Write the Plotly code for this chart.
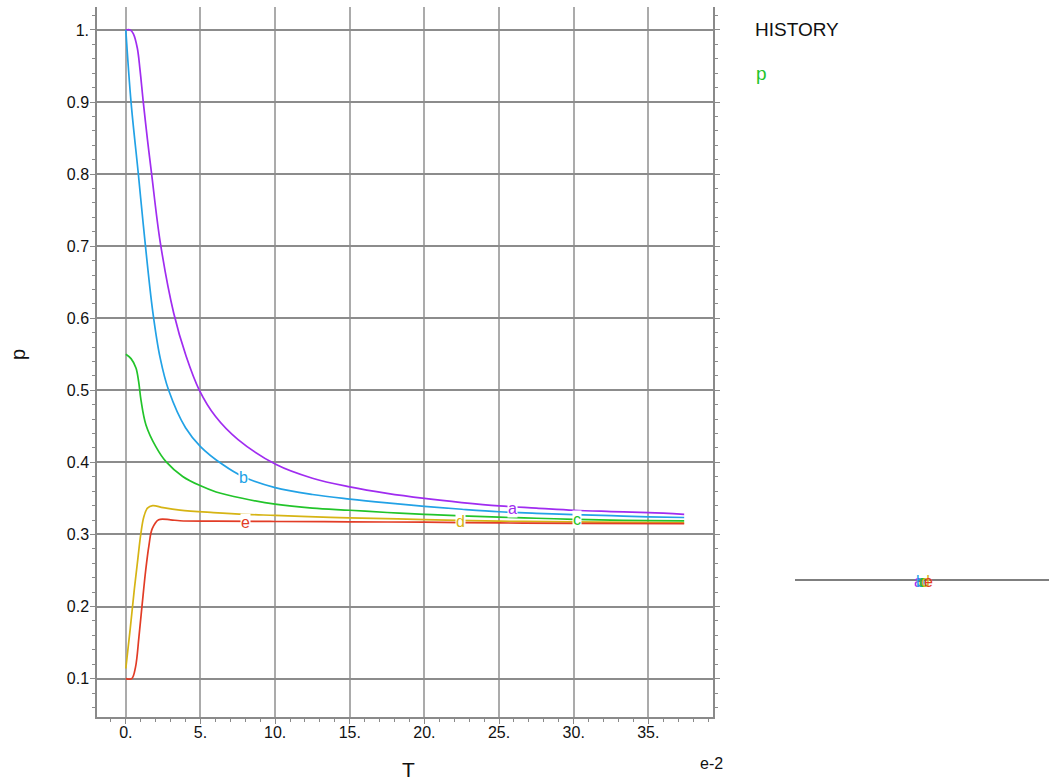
import plotly.graph_objects as go

# ---------------- data ----------------
T_a = [0, 0.3, 0.5, 0.77, 0.95, 1.17, 1.45, 1.73, 2.31, 3.21, 4.03, 4.93, 6.0, 7.5, 10.07, 12.5, 15, 17.5, 20, 22.5, 25, 27.5, 30, 32.5, 35, 37.4]
p_a = [1.0, 1.0, 0.995, 0.975, 0.945, 0.9, 0.848, 0.8, 0.705, 0.607, 0.548, 0.5, 0.464, 0.432, 0.397, 0.378, 0.366, 0.357, 0.35, 0.3443, 0.3396, 0.3366, 0.3336, 0.3318, 0.3302, 0.328]

T_b = [0, 0.35, 0.84, 1.17, 1.8, 2.3, 2.87, 4.0, 5.0, 6.49, 7.87, 10, 12.5, 15, 17.5, 20, 22.5, 25, 27.5, 30, 32.5, 35, 37.4]
p_b = [1.0, 0.9, 0.8, 0.73, 0.61, 0.545, 0.5, 0.448, 0.422, 0.397, 0.38, 0.365, 0.3554, 0.349, 0.3437, 0.339, 0.335, 0.3315, 0.3293, 0.3276, 0.326, 0.3245, 0.3235]

T_c = [0, 0.35, 0.68, 0.86, 1.02, 1.35, 2.02, 2.69, 3.81, 4.97, 6.05, 7.8, 10, 12.5, 15, 17.5, 20, 22.5, 25, 27.5, 30, 32.5, 35, 37.4]
p_c = [0.55, 0.544, 0.531, 0.512, 0.486, 0.452, 0.4215, 0.401, 0.3805, 0.3678, 0.359, 0.3502, 0.342, 0.3365, 0.3336, 0.3305, 0.328, 0.3257, 0.324, 0.3225, 0.321, 0.3198, 0.3192, 0.3188]

T_d = [0, 0.3, 0.55, 0.8, 1.0, 1.2, 1.45, 1.8, 2.5, 3.63, 5.87, 8.1, 10, 13.7, 15, 20, 25, 30, 37.4]
p_d = [0.114, 0.17, 0.22, 0.265, 0.3, 0.324, 0.3365, 0.34, 0.3372, 0.3338, 0.3304, 0.3278, 0.3265, 0.3238, 0.323, 0.3207, 0.3185, 0.3174, 0.316]

T_e = [0, 0.4, 0.65, 0.88, 1.1, 1.33, 1.55, 1.77, 2.2, 3.0, 3.63, 6, 10, 15, 20, 25, 30, 37.4]
p_e = [0.1, 0.1, 0.116, 0.158, 0.204, 0.25, 0.285, 0.308, 0.3205, 0.3203, 0.319, 0.3185, 0.318, 0.3175, 0.317, 0.316, 0.3155, 0.315]

series_names = ["a", "b", "c", "d", "e"]
series_colors = ["#a02cf0", "#22a2e6", "#22c42a", "#d6b414", "#e23c26"]
series_T = [T_a, T_b, T_c, T_d, T_e]
series_p = [p_a, p_b, p_c, p_d, p_e]

# curve label positions (T, p)
label_T = [25.9, 7.87, 30.25, 22.4, 8.0]
label_p = [0.336, 0.379, 0.3205, 0.318, 0.317]

x_tickvals = [0, 5, 10, 15, 20, 25, 30, 35]
x_ticktext = ["0.", "5.", "10.", "15.", "20.", "25.", "30.", "35."]
y_tickvals = [0.1, 0.2, 0.3, 0.4, 0.5, 0.6, 0.7, 0.8, 0.9, 1.0]
y_ticktext = ["0.1", "0.2", "0.3", "0.4", "0.5", "0.6", "0.7", "0.8", "0.9", "1."]

# ---------------- figure ----------------
FONT = "Liberation Sans, Arial, sans-serif"
W, H = 1049, 781
ML, MR, MT, MB = 97, 336, 7, 64
PW, PH = W - ML - MR, H - MT - MB


def px_x(px):
    return (px - ML) / PW


def px_y(py):
    return (H - MB - py) / PH


fig = go.Figure()
for name, col, T, p in zip(series_names, series_colors, series_T, series_p):
    fig.add_trace(go.Scatter(x=T, y=p, mode="lines", name=name,
                             line=dict(color=col, width=1.7, shape="spline", smoothing=1.0),
                             showlegend=False, hoverinfo="skip"))

annotations = []
for name, col, lx, ly in zip(series_names, series_colors, label_T, label_p):
    annotations.append(dict(x=lx, y=ly, xref="x", yref="y", text=name, showarrow=False,
                            font=dict(family=FONT, size=16, color=col),
                            bgcolor="white", borderpad=0, xanchor="center", yanchor="middle"))

# axis titles and extra texts
annotations += [
    dict(x=px_x(18), y=px_y(355), xref="paper", yref="paper", text="p", showarrow=False,
         textangle=-90, font=dict(family=FONT, size=20, color="#111"), xanchor="center", yanchor="middle"),
    dict(x=px_x(408), y=px_y(770), xref="paper", yref="paper", text="T", showarrow=False,
         font=dict(family=FONT, size=21, color="#111"), xanchor="center", yanchor="middle"),
    dict(x=px_x(711), y=px_y(764), xref="paper", yref="paper", text="e-2", showarrow=False,
         font=dict(family=FONT, size=16, color="#111"), xanchor="center", yanchor="middle"),
    dict(x=px_x(753), y=px_y(30), xref="paper", yref="paper", text="HISTORY", showarrow=False,
         font=dict(family=FONT, size=19, color="#111"), xanchor="left", yanchor="middle"),
    dict(x=px_x(754), y=px_y(74), xref="paper", yref="paper", text="p", showarrow=False,
         font=dict(family=FONT, size=19, color=series_colors[2]), xanchor="left", yanchor="middle"),
]
# overlapped legend labels on right line
for i, (name, col) in enumerate(zip(series_names, series_colors)):
    annotations.append(dict(x=px_x(918 + i * 2.6), y=px_y(581), xref="paper", yref="paper",
                            text=name, showarrow=False,
                            font=dict(family=FONT, size=16, color=col),
                            xanchor="center", yanchor="middle"))

shapes = [dict(type="line", xref="paper", yref="paper", x0=px_x(795), x1=px_x(1060),
               y0=px_y(580), y1=px_y(580), line=dict(color="#555555", width=1.6), layer="below")]

fig.update_layout(
    width=W, height=H, autosize=False,
    margin=dict(l=ML, r=MR, t=MT, b=MB, pad=0),
    plot_bgcolor="white", paper_bgcolor="white",
    font=dict(family=FONT, size=16, color="#1a1a1a"),
    annotations=annotations, shapes=shapes,
    xaxis=dict(range=[-1.93, 39.33], tickmode="array", tickvals=x_tickvals, ticktext=x_ticktext,
               showgrid=True, gridcolor="#ababab", gridwidth=2,
               showline=True, linecolor="#8a8a8a", linewidth=1.5,
               ticks="outside", ticklen=5, tickcolor="#8a8a8a", tickwidth=1,
               ticklabelstandoff=-5,
               tickfont=dict(family=FONT, size=16, color="#111111"),
               minor=dict(tickmode="linear", tick0=0, dtick=1, ticks="outside", ticklen=3,
                          tickcolor="#8a8a8a", showgrid=False),
               zeroline=False, mirror=False, fixedrange=True),
    yaxis=dict(range=[0.0467, 1.0319], tickmode="array", tickvals=y_tickvals, ticktext=y_ticktext,
               showgrid=True, gridcolor="#8c8c8c", gridwidth=1.5,
               showline=True, linecolor="#8a8a8a", linewidth=1.5,
               ticks="outside", ticklen=5, tickcolor="#8a8a8a", tickwidth=1,
               ticklabelstandoff=-2,
               tickfont=dict(family=FONT, size=16, color="#111111"),
               minor=dict(tickmode="linear", tick0=0, dtick=0.02, ticks="outside", ticklen=3,
                          tickcolor="#8a8a8a", showgrid=False),
               zeroline=False, mirror="ticks", fixedrange=True),
)

fig.write_html("out.html")
